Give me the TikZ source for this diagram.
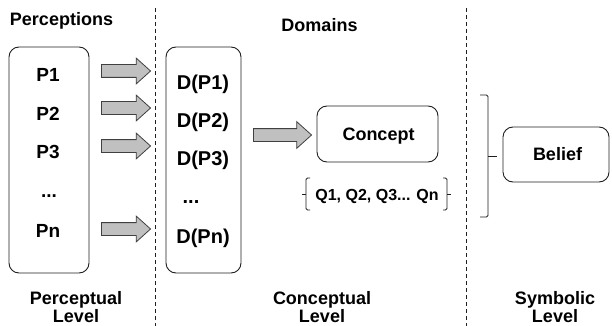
\documentclass[tikz,border=0pt]{standalone}
\usepackage{fontspec}
\setmainfont{Liberation Sans}
\usetikzlibrary{shapes.arrows}
\definecolor{ArrowFill}{RGB}{192,192,192}
\definecolor{ArrowEdge}{RGB}{64,64,64}
\definecolor{LineDark}{RGB}{30,30,30}

\begin{document}
\begin{tikzpicture}[x=1pt, y=-1pt,
    every node/.style={inner sep=0pt, font=\bfseries\fontsize{18}{20}\selectfont},
    item/.style={anchor=base, font=\bfseries\fontsize{19}{21}\selectfont},
    domitem/.style={anchor=base, font=\bfseries\fontsize{20}{22}\selectfont},
    levelbox/.style={draw=LineDark, line width=0.9pt, rounded corners=10pt},
    blockarrow/.style={shape=single arrow, draw=ArrowEdge, fill=ArrowFill, line width=0.8pt,
        inner xsep=0pt, inner ysep=6pt, single arrow head extend=6.5pt,
        single arrow head indent=0pt, single arrow tip angle=84, minimum width=25pt},
    divider/.style={draw=LineDark, line width=0.8pt, dash pattern=on 4pt off 3pt},
    bracket/.style={draw=LineDark, line width=0.9pt, rounded corners=1.5pt}]
    \useasboundingbox (0,0) rectangle (612,326);

    % level dividers
    \draw[divider] (155,8) -- (155,330);
    \draw[divider] (466,8) -- (466,330);

    % headings
    \node[anchor=base] (perc) at (61.5,26) {Perceptions};
    \node[anchor=base] (dom) at (319.5,32) {Domains};

    % perceptions
    \draw[levelbox] (9,47) rectangle (89,273);
    \node[item] (p1) at (48,82) {P1};
    \node[item] (p2) at (48,120) {P2};
    \node[item] (p3) at (48,158) {P3};
    \node[item] (pdots) at (49,197) {...};
    \node[item] (pn) at (48,237) {Pn};

    % perception -> domain
    \node[blockarrow, minimum height=49pt] (a1) at (122.5,71) {};
    \node[blockarrow, minimum height=49pt] (a2) at (122.5,108) {};
    \node[blockarrow, minimum height=49pt] (a3) at (122.5,146) {};
    \node[blockarrow, minimum height=49pt] (an) at (122.5,229) {};

    % domains
    \draw[levelbox] (166,47) rectangle (241,273);
    \node[domitem] (d1) at (203,89) {D(P1)};
    \node[domitem] (d2) at (203,127) {D(P2)};
    \node[domitem] (d3) at (203,165) {D(P3)};
    \node[domitem] (ddots) at (191,203) {...};
    \node[domitem] (dn) at (203,243) {D(Pn)};

    % domains -> concept
    \node[blockarrow, minimum height=58pt, minimum width=26pt, single arrow head extend=7pt] (ac) at (279,135) {};

    % concept and its qualities
    \draw[levelbox] (317,106) rectangle (438,162);
    \node[anchor=base] (concept) at (378.5,140) {Concept};
    \node[anchor=base, font=\bfseries\fontsize{16}{18}\selectfont] (quals) at (377,200) {Q1, Q2, Q3... Qn};
    \draw[bracket] (310,178) -- (306,178) -- (306,210) -- (310,210);
    \draw[bracket] (306,194) -- (302,194);
    \draw[bracket] (443,178) -- (447,178) -- (447,210) -- (443,210);
    \draw[bracket] (447,194) -- (451,194);

    % belief
    \draw[bracket] (480,95) -- (488,95) -- (488,217) -- (480,217);
    \draw[bracket] (488,156) -- (497,156);
    \draw[levelbox] (503,127) rectangle (609,182);
    \node[anchor=base] (belief) at (557.5,160) {Belief};

    % level names
    \node[anchor=base] (lvlp) at (76,304) {Perceptual};
    \node[anchor=base] (lvlpb) at (76,322.5) {Level};
    \node[anchor=base] (lvlc) at (322,304) {Conceptual};
    \node[anchor=base] (lvlcb) at (322,322.5) {Level};
    \node[anchor=base] (lvls) at (555,304) {Symbolic};
    \node[anchor=base] (lvlsb) at (555,322.5) {Level};
\end{tikzpicture}
\end{document}
